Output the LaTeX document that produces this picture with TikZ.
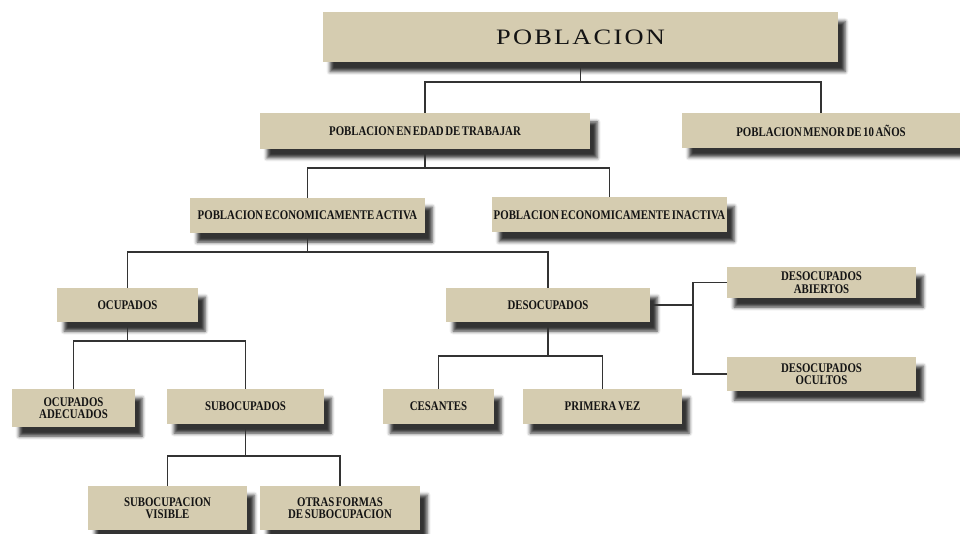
\documentclass[tikz,border=0pt]{standalone}
\usepackage{fontspec}
\setmainfont{Liberation Serif}
\newfontfamily\lblfont[FakeStretch=0.82,WordSpace=0.6]{Liberation Serif}
\newfontfamily\titlefont[FakeStretch=1.2,LetterSpace=10]{Liberation Serif}
\usetikzlibrary{shadows.blur}
\definecolor{boxfill}{HTML}{D5CCB0}
\definecolor{linegray}{HTML}{333333}
\tikzset{
    box/.style={fill=boxfill, text=black!92, align=center, inner sep=0pt,
        blur shadow={shadow xshift=7pt, shadow yshift=-9pt,
            shadow blur radius=3.5pt, shadow opacity=80},
        font=\lblfont\bfseries\fontsize{13.2}{12.5}\selectfont},
    link/.style={draw=linegray, line width=1.2pt}
}
\begin{document}
\begin{tikzpicture}[x=1pt,y=-1pt]
    \useasboundingbox (0,0) rectangle (960,534);
    % boxes
    \node[box, minimum width=515, minimum height=50,
        font=\titlefont\fontsize{22}{22}\selectfont] (pob) at (580.5,37.5) {POBLACION};
    \node[box, minimum width=330, minimum height=36] (pet) at (425,131) {POBLACION EN EDAD DE TRABAJAR};
    \node[box, minimum width=278, minimum height=35] (pmen) at (821,130.5) {POBLACION MENOR DE 10 AÑOS};
    \node[box, minimum width=235, minimum height=35] (pea) at (307.5,215.5) {POBLACION ECONOMICAMENTE ACTIVA};
    \node[box, minimum width=235, minimum height=35] (pei) at (609.5,215) {POBLACION ECONOMICAMENTE INACTIVA};
    \node[box, minimum width=141, minimum height=34] (ocu) at (127.5,305) {OCUPADOS};
    \node[box, minimum width=204, minimum height=34] (deso) at (548,305) {DESOCUPADOS};
    \node[box, minimum width=189, minimum height=31] (abi) at (821.5,282.5) {DESOCUPADOS\\ABIERTOS};
    \node[box, minimum width=189, minimum height=34] (ocul) at (821.5,374) {DESOCUPADOS\\OCULTOS};
    \node[box, minimum width=123, minimum height=38] (ade) at (73.5,408) {OCUPADOS\\ADECUADOS};
    \node[box, minimum width=157, minimum height=35] (sub) at (245.5,406.5) {SUBOCUPADOS};
    \node[box, minimum width=111, minimum height=35] (ces) at (438.5,406.5) {CESANTES};
    \node[box, minimum width=159, minimum height=35] (prim) at (602.5,406.5) {PRIMERA VEZ};
    \node[box, minimum width=159, minimum height=44] (vis) at (167.5,508) {SUBOCUPACION\\VISIBLE};
    \node[box, minimum width=160, minimum height=44] (otr) at (340,508) {OTRAS FORMAS\\DE SUBOCUPACION};
    % buses
    \coordinate (b1) at (580.5,82);
    \coordinate (b2) at (425,168);
    \coordinate (b3) at (307.5,252);
    \coordinate (b4) at (127.5,341);
    \coordinate (b5) at (548,356);
    \coordinate (b6) at (693,305);
    \coordinate (b7) at (245.5,456);
    % connectors
    \draw[link] (pob.south) -- (b1) -| (pet.north);
    \draw[link] (b1) -| (pmen.north);
    \draw[link] (pet.south) -- (b2) -| (pea.north);
    \draw[link] (b2) -| (pei.north);
    \draw[link] (pea.south) -- (b3) -| (ocu.north);
    \draw[link] (b3) -| (deso.north);
    \draw[link] (ocu.south) -- (b4) -| (ade.north);
    \draw[link] (b4) -| (sub.north);
    \draw[link] (deso.south) -- (b5) -| (ces.north);
    \draw[link] (b5) -| (prim.north);
    \draw[link] (deso.east) -- (b6);
    \draw[link] (abi.west) -| (b6) |- (ocul.west);
    \draw[link] (sub.south) -- (b7) -| (vis.north);
    \draw[link] (b7) -| (otr.north);
\end{tikzpicture}
\end{document}
